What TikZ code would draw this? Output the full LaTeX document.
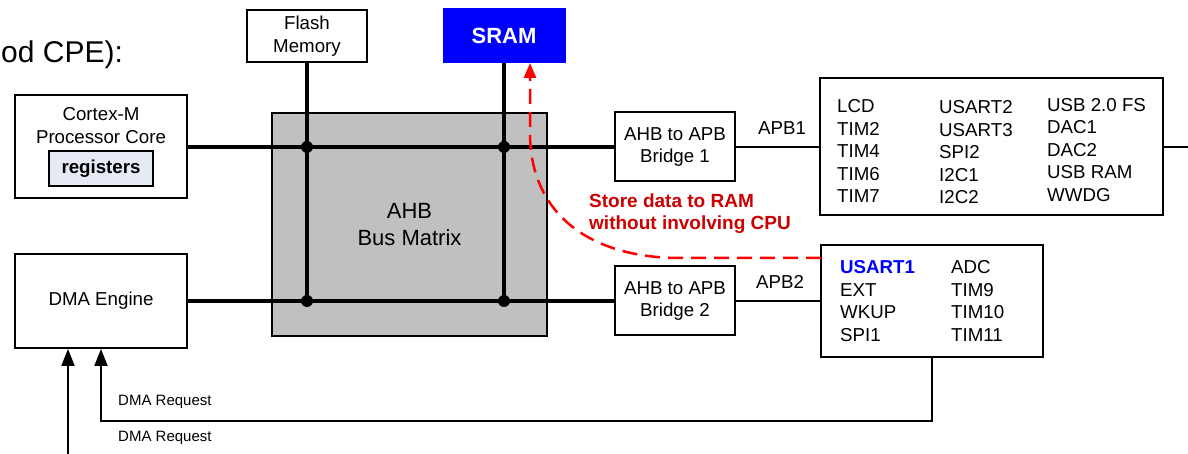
\documentclass[tikz,border=0pt]{standalone}
\usepackage{fontspec}
\setmainfont{Liberation Sans}
\usetikzlibrary{arrows.meta}
\definecolor{srblue}{HTML}{0000FF}
\definecolor{regfill}{HTML}{E6EAF4}
\definecolor{busgray}{HTML}{C0C0C0}
\definecolor{notered}{HTML}{CC0000}
\begin{document}
\begin{tikzpicture}[x=1pt, y=1pt, font=\fontsize{18.7}{22.5}\selectfont,
		box/.style={draw, line width=2pt, rectangle, inner sep=0pt, align=center},
		bus/.style={line width=4pt},
		l_thin/.style={line width=2pt},
		req/.style={line width=2pt, -{Triangle[length=17pt,width=13pt]}},
		list/.style={anchor=west, align=left, inner sep=0pt},
		dma_path/.style={red, line width=2.5pt, dash pattern=on 15pt off 8pt, -{Triangle[length=15pt,width=12pt]}}]
		\useasboundingbox (0,0) rectangle (1188,454);
		\node[anchor=west, inner sep=0pt, font=\fontsize{30}{36}\selectfont] (title) at (1,399) {od CPE):};
		
		% bus matrix in the middle
		\node[box, fill=busgray, minimum width=275pt, minimum height=223pt, font=\fontsize{22}{27}\selectfont] (matrix) at (409.5,229.5) {AHB\\Bus Matrix};
		
		\node[box, minimum width=172pt, minimum height=103pt] (cpu) at (101,307) {};
		\node[align=center, inner sep=0pt] (cpulbl) at (101,328.5) {Cortex-M\\Processor Core};
		\node[box, fill=regfill, minimum width=104pt, minimum height=35pt, font=\bfseries\fontsize{18.7}{22.5}\selectfont] (regs) at (101,285.5) {registers};
		\node[box, minimum width=172pt, minimum height=94pt] (dma) at (101,153) {DMA Engine};
		
		\node[box, minimum width=120pt, minimum height=52pt] (flash) at (307,418) {Flash\\Memory};
		\node[box, draw=srblue, fill=srblue, text=white, font=\bfseries\fontsize{22}{26}\selectfont, minimum width=121pt, minimum height=53pt] (sram) at (504,418.5) {SRAM};
		
		\node[box, minimum width=120pt, minimum height=69pt] (br1) at (675,307) {AHB to APB\\Bridge 1};
		\node[box, minimum width=120pt, minimum height=69pt] (br2) at (675,153) {AHB to APB\\Bridge 2};
		
		\node[box, minimum width=343pt, minimum height=137pt] (apb1) at (991.5,307) {};
		\node[box, minimum width=222pt, minimum height=112pt] (apb2) at (932,153) {};
		
		% peripheral lists
		\node[list] (p1a) at (837,303) {LCD\\TIM2\\TIM4\\TIM6\\TIM7};
		\node[list] (p1b) at (939,301.5) {USART2\\USART3\\SPI2\\I2C1\\I2C2};
		\node[list] (p1c) at (1047,304) {USB 2.0 FS\\DAC1\\DAC2\\USB RAM\\WWDG};
		\node[list] (p2a) at (840,153) {\textcolor{srblue}{\bfseries USART1}\\EXT\\WKUP\\SPI1};
		\node[list] (p2b) at (951,153) {ADC\\TIM9\\TIM10\\TIM11};
		
		% buses
		\coordinate (j1) at (307,307);
		\coordinate (j2) at (504,307);
		\coordinate (j3) at (307,153);
		\coordinate (j4) at (504,153);
		\draw[bus] (cpu.east) -- (br1.west);
		\draw[bus] (dma.east) -- (br2.west);
		\draw[bus] (flash.south) -- (j3);
		\draw[bus] (sram.south) -- (j4);
		\foreach \j in {j1,j2,j3,j4} {
			\fill (\j) circle (6pt);
		};
		
		\coordinate (edge) at (1190,307);
		\draw[l_thin] (br1.east) -- (apb1.west);
		\draw[l_thin] (apb1.east) -- (edge);
		\draw[l_thin] (br2.east) -- (apb2.west);
		\node (apb1lbl) at (782,326) {APB1};
		\node (apb2lbl) at (780,172) {APB2};
		
		% DMA transfer to SRAM
		\coordinate (dstart) at (821,196);
		\coordinate (dturn) at (680,196);
		\coordinate (bend) at (530,321);
		\coordinate (tip) at (530,391);
		\draw[dma_path] (dstart) -- (dturn) .. controls (590,196) and (530,240) .. (bend) -- (tip);
		\node[list, text=notered, font=\bfseries\fontsize{19}{22}\selectfont] (note) at (589,240) {Store data to RAM\\without involving CPU};
		
		% request lines
		\coordinate (r1) at (101,33);
		\coordinate (r2) at (68,-2);
		\draw[req] (apb2.south) |- (r1) -- (dma.south);
		\draw[req] (r2) -- (r2 |- dma.south);
		\node[list, font=\fontsize{15}{18}\selectfont] (req1lbl) at (118,52) {DMA Request};
		\node[list, font=\fontsize{15}{18}\selectfont] (req2lbl) at (118,16) {DMA Request};
	\end{tikzpicture}
\end{document}
